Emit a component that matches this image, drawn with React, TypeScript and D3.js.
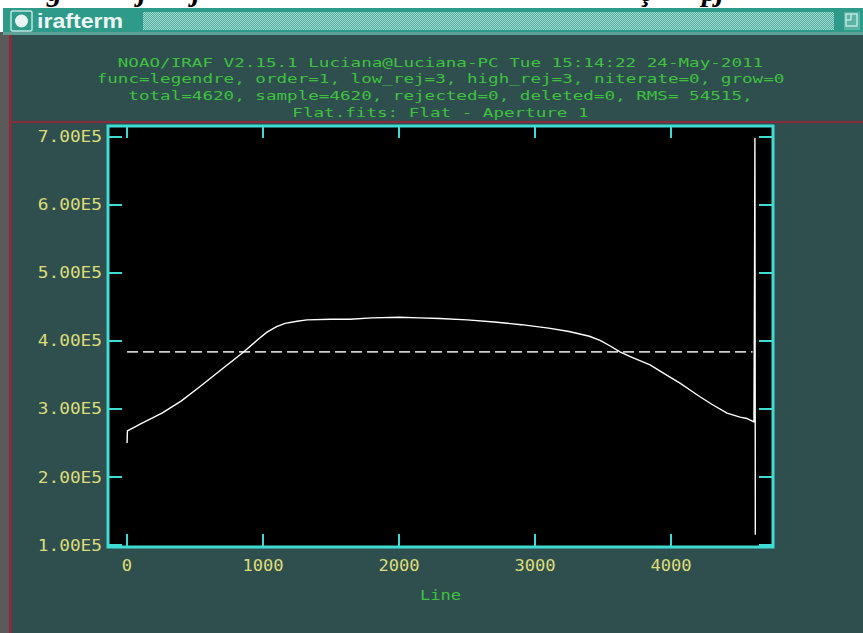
import React from 'react';
import * as d3 from 'd3';

// ---- data ----
const lineIdx = [0, 3, 100, 257, 400, 537, 662, 750, 846, 956, 1029, 1100, 1162, 1250, 1324, 1500, 1640, 1800, 2000, 2150, 2300, 2500, 2700, 2900, 3100, 3250, 3400, 3478, 3550, 3625, 3700, 3846, 3950, 4066, 4140, 4213, 4300, 4412, 4507, 4560, 4610, 4614, 4617, 4620];
const flux = [250000, 268000, 278000, 294000, 312000, 333000, 353000, 367000, 382000, 401000, 413000, 421000, 426000, 429000, 431000, 432000, 432000, 434000, 435000, 434000, 433000, 431000, 428000, 424000, 419000, 414000, 407000, 401000, 393000, 384000, 377000, 365000, 352000, 338000, 328000, 318000, 307000, 294000, 288000, 286000, 281000, 490000, 698000, 115000];

const fitLevel = 384000;
const fitStart = 0;
const fitEnd = 4600;

const yTicks = [100000, 200000, 300000, 400000, 500000, 600000, 700000];
const yTickLabels = ['1.00E5', '2.00E5', '3.00E5', '4.00E5', '5.00E5', '6.00E5', '7.00E5'];
const xTicks = [0, 1000, 2000, 3000, 4000];
const xTickLabels = ['0', '1000', '2000', '3000', '4000'];

const headerLines = [
  'NOAO/IRAF V2.15.1 Luciana@Luciana-PC Tue 15:14:22 24-May-2011',
  'func=legendre, order=1, low_rej=3, high_rej=3, niterate=0, grow=0',
  'total=4620, sample=4620, rejected=0, deleted=0, RMS= 54515,',
  'Flat.fits: Flat - Aperture 1',
];
const xAxisTitle = 'Line';
const windowTitle = 'irafterm';
const cutCaptionGlyphs = ['g', 'j', 'j', 'ç', 'p', 'j'];

export default function App() {
  const W = 863;
  const H = 633;
  const frame = { l: 108, t: 126, r: 773, b: 547 };
  const x = d3.scaleLinear().domain([-140, 4750]).range([frame.l, frame.r]);
  const y = d3.scaleLinear().domain([97059, 716176]).range([frame.b, frame.t]);

  const data: [number, number][] = lineIdx.map((l, i) => [l, flux[i]]);
  const path = d3
    .line<[number, number]>()
    .x((d) => x(d[0]))
    .y((d) => y(d[1]))(data) as string;

  const bg = '#2f4f4f';
  const green = '#3ec23e';
  const yellow = '#dcdc78';
  const cyan = '#3fdcd4';
  const mono = '"DejaVu Sans Mono", monospace';

  const headerY = [62, 78.5, 95, 112];
  const glyphX = [47, 138, 192, 640, 702, 716];

  return (
    <svg
      width={W}
      height={H}
      viewBox={`0 0 ${W} ${H}`}
      style={{ position: 'absolute', left: 0, top: 0, display: 'block' }}
    >
      <defs>
        <pattern id="stip" width="2" height="2" patternUnits="userSpaceOnUse">
          <rect width="2" height="2" fill="#4fae9f" />
          <rect width="1" height="1" fill="#a2d8cd" />
          <rect x="1" y="1" width="1" height="1" fill="#a2d8cd" />
        </pattern>
      </defs>
      <rect x={0} y={0} width={W} height={H} fill="#ffffff" />
      {/* cut-off caption text from the page above */}
      {cutCaptionGlyphs.map((g, i) => (
        <text
          key={i}
          x={glyphX[i]}
          y={1}
          fontFamily='"Liberation Serif", serif'
          fontStyle="italic"
          fontWeight="bold"
          fontSize={30}
          fill="#000"
        >
          {g}
        </text>
      ))}
      {/* window body */}
      <rect x={0} y={32} width={W} height={H - 32} fill="#5a5a5a" />
      <rect x={9} y={32} width={W - 9} height={H - 32} fill={bg} />
      {/* title bar */}
      <rect x={3} y={8} width={W - 3} height={25} fill="#2e9a89" />
      <rect x={3} y={32} width={W - 3} height={3} fill="#5f9f96" />
      <rect x={143} y={12} width={691} height={18} fill="url(#stip)" />
      <rect x={11} y={11} width={21} height={20} rx={2} fill="none" stroke="#bfe6df" strokeWidth={1.5} />
      <circle cx={21.5} cy={21} r={6.5} fill="#e8f4f2" />
      <text
        x={37}
        y={28}
        fontFamily='"Liberation Sans", Arial, sans-serif'
        fontWeight="bold"
        fontSize={21}
        fill="#eef6f4"
        textLength={86}
        lengthAdjust="spacingAndGlyphs"
      >
        {windowTitle}
      </text>
      <rect x={844} y={12} width={16} height={18} fill="#59b3a4" />
      <rect x={846} y={14} width={11} height={12} fill="none" stroke="#d7efe9" strokeWidth={1.2} />
      <line x1={851} y1={14} x2={851} y2={20} stroke="#d7efe9" strokeWidth={1.2} />
      <line x1={846} y1={20} x2={851} y2={20} stroke="#d7efe9" strokeWidth={1.2} />

      {/* red separators */}
      <rect x={9} y={35} width={3} height={H - 35} fill="#8a2b3b" />
      <rect x={9} y={121} width={W - 9} height={2} fill="#8a2b3b" />

      {/* header */}
      {headerLines.map((s, i) => (
        <text
          key={i}
          x={(frame.l + frame.r) / 2}
          y={headerY[i]}
          textAnchor="middle"
          dominantBaseline="central"
          fontFamily={mono}
          fontSize={13}
          fill={green}
          textLength={s.length * 10.58}
          lengthAdjust="spacingAndGlyphs"
        >
          {s}
        </text>
      ))}

      {/* plot area */}
      <rect x={frame.l} y={frame.t} width={frame.r - frame.l} height={frame.b - frame.t} fill="#000" />

      {/* fit */}
      <line
        x1={x(fitStart)}
        x2={x(fitEnd)}
        y1={y(fitLevel)}
        y2={y(fitLevel)}
        stroke="#cfcfcf"
        strokeWidth={1.8}
        strokeDasharray="11 5"
      />
      {/* data */}
      <path d={path} fill="none" stroke="#ffffff" strokeWidth={1.4} strokeLinejoin="round" />

      {/* ticks */}
      {yTicks.map((v, i) => (
        <g key={'y' + i}>
          <line x1={frame.l} x2={frame.l + 14} y1={y(v)} y2={y(v)} stroke={cyan} strokeWidth={2} />
          <line x1={frame.r - 14} x2={frame.r} y1={y(v)} y2={y(v)} stroke={cyan} strokeWidth={2} />
          <text
            x={102}
            y={y(v)}
            textAnchor="end"
            dominantBaseline="central"
            fontFamily={mono}
            fontSize={16}
            fill={yellow}
            textLength={yTickLabels[i].length * 10.7}
            lengthAdjust="spacingAndGlyphs"
          >
            {yTickLabels[i]}
          </text>
        </g>
      ))}
      {xTicks.map((v, i) => (
        <g key={'x' + i}>
          <line x1={x(v)} x2={x(v)} y1={frame.t} y2={frame.t + 12} stroke={cyan} strokeWidth={2} />
          <line x1={x(v)} x2={x(v)} y1={frame.b - 13} y2={frame.b} stroke={cyan} strokeWidth={2} />
          <text
            x={x(v)}
            y={566}
            textAnchor="middle"
            dominantBaseline="central"
            fontFamily={mono}
            fontSize={15}
            fill={yellow}
            textLength={xTickLabels[i].length * 10.3}
            lengthAdjust="spacingAndGlyphs"
          >
            {xTickLabels[i]}
          </text>
        </g>
      ))}

      {/* frame */}
      <rect
        x={frame.l}
        y={frame.t}
        width={frame.r - frame.l}
        height={frame.b - frame.t}
        fill="none"
        stroke={cyan}
        strokeWidth={3}
      />

      <text
        x={(frame.l + frame.r) / 2}
        y={595}
        textAnchor="middle"
        dominantBaseline="central"
        fontFamily={mono}
        fontSize={14}
        fill={green}
        textLength={xAxisTitle.length * 10.3}
        lengthAdjust="spacingAndGlyphs"
      >
        {xAxisTitle}
      </text>
    </svg>
  );
}
